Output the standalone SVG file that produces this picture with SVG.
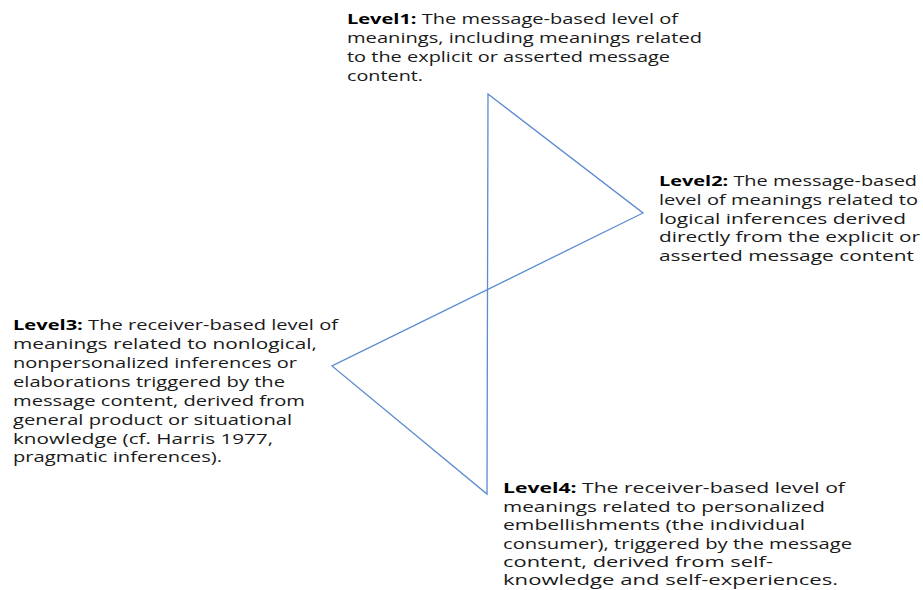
<svg xmlns="http://www.w3.org/2000/svg" width="923" height="590" viewBox="0 0 923 590">
<style>
text{font-family:"Open Sans","Liberation Sans",sans-serif;font-size:14.5px;fill:#1a1a1a}
.b{font-weight:bold;fill:#000}
.ln{fill:none;stroke:#5b8bd0;stroke-width:1.3;stroke-linejoin:miter}
</style>
<rect width="923" height="590" fill="#fff"/>
<g id="connectors">
<path class="ln" d="M488,94 L643,213 L332,366 L487,494 Z"/>
</g>
<g id="level1">
<text x="347" y="24" textLength="331" lengthAdjust="spacingAndGlyphs"><tspan class="b">Level1:</tspan> The message-based level of</text>
<text x="347" y="43" textLength="355" lengthAdjust="spacingAndGlyphs">meanings, including meanings related</text>
<text x="347" y="62" textLength="323" lengthAdjust="spacingAndGlyphs">to the explicit or asserted message</text>
<text x="347" y="81" textLength="76" lengthAdjust="spacingAndGlyphs">content.</text>
</g>
<g id="level2">
<text x="659" y="186" textLength="258" lengthAdjust="spacingAndGlyphs"><tspan class="b">Level2:</tspan> The message-based</text>
<text x="659" y="205" textLength="259" lengthAdjust="spacingAndGlyphs">level of meanings related to</text>
<text x="659" y="223.5" textLength="247" lengthAdjust="spacingAndGlyphs">logical inferences derived</text>
<text x="659" y="242" textLength="261" lengthAdjust="spacingAndGlyphs">directly from the explicit or</text>
<text x="659" y="260.5" textLength="255" lengthAdjust="spacingAndGlyphs">asserted message content</text>
</g>
<g id="level3">
<text x="13" y="330" textLength="325" lengthAdjust="spacingAndGlyphs"><tspan class="b">Level3:</tspan> The receiver-based level of</text>
<text x="13" y="349" textLength="304" lengthAdjust="spacingAndGlyphs">meanings related to nonlogical,</text>
<text x="13" y="368" textLength="284" lengthAdjust="spacingAndGlyphs">nonpersonalized inferences or</text>
<text x="13" y="387" textLength="272" lengthAdjust="spacingAndGlyphs">elaborations triggered by the</text>
<text x="13" y="405.5" textLength="292" lengthAdjust="spacingAndGlyphs">message content, derived from</text>
<text x="13" y="424.5" textLength="279" lengthAdjust="spacingAndGlyphs">general product or situational</text>
<text x="13" y="443.5" textLength="260" lengthAdjust="spacingAndGlyphs">knowledge (cf. Harris 1977,</text>
<text x="13" y="462" textLength="209" lengthAdjust="spacingAndGlyphs">pragmatic inferences).</text>
</g>
<g id="level4">
<text x="503" y="493" textLength="342" lengthAdjust="spacingAndGlyphs"><tspan class="b">Level4:</tspan> The receiver-based level of</text>
<text x="503" y="511.5" textLength="322" lengthAdjust="spacingAndGlyphs">meanings related to personalized</text>
<text x="503" y="530" textLength="302" lengthAdjust="spacingAndGlyphs">embellishments (the individual</text>
<text x="503" y="548.5" textLength="349" lengthAdjust="spacingAndGlyphs">consumer), triggered by the message</text>
<text x="503" y="567" textLength="270" lengthAdjust="spacingAndGlyphs">content, derived from self-</text>
<text x="503" y="585" textLength="335" lengthAdjust="spacingAndGlyphs">knowledge and self-experiences.</text>
</g>
</svg>
